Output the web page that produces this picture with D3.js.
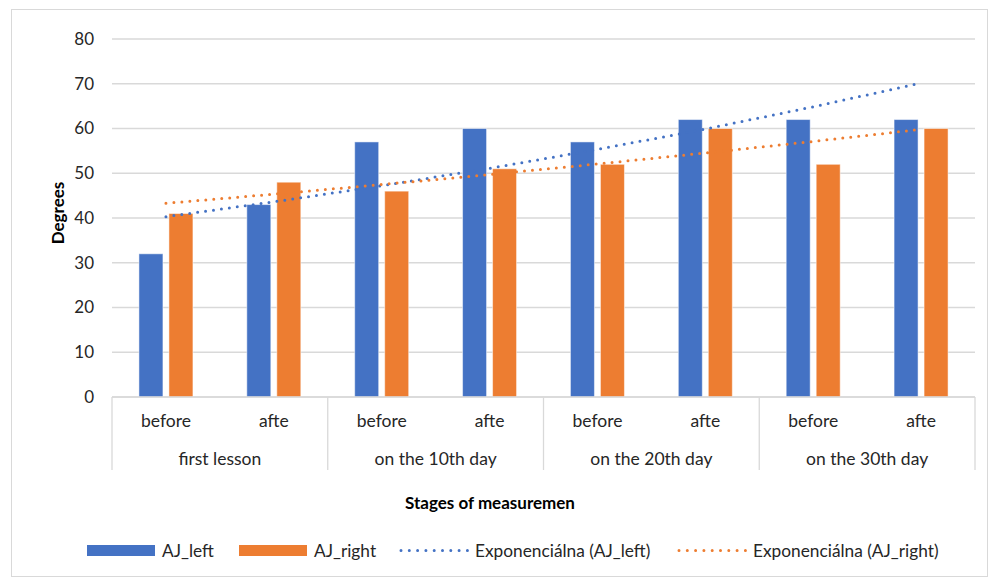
<!DOCTYPE html>
<html><head><meta charset="utf-8">
<script src="https://cdn.jsdelivr.net/npm/d3@7"></script>
<style>body{margin:0;background:#fff;font-family:Lato,"Open Sans",sans-serif;}</style>
</head><body><svg id="c" width="992" height="579"></svg>
<script>
const stages = ["before","afte","before","afte","before","afte","before","afte"];
const groups = ["first lesson","on the 10th day","on the 20th day","on the 30th day"];
const ajLeft = [32,43,57,60,57,62,62,62];
const ajRight = [41,48,46,51,52,60,52,60];
const yTicks = [0,10,20,30,40,50,60,70,80];
const seriesNames = ["AJ_left","AJ_right","Exponenciálna (AJ_left)","Exponenciálna (AJ_right)"];
const colors = ["#4472C4","#ED7D31"];

const svg = d3.select("#c");
svg.append("rect").attr("x",11.5).attr("y",9.5).attr("width",976).attr("height",567).attr("fill","#fff").attr("stroke","#d9d9d9");

const L=112,R=975,T=39,B=397;
const x = d3.scaleBand().domain(d3.range(stages.length)).range([L,R]);
const y = d3.scaleLinear().domain([0,80]).range([B,T]);

// gridlines
svg.append("g").selectAll("line").data(yTicks).join("line")
 .attr("x1",L).attr("x2",R).attr("y1",d=>y(d)).attr("y2",d=>y(d))
 .attr("stroke","#d9d9d9").attr("stroke-width",1.3);
// y labels
svg.append("g").selectAll("text").data(yTicks).join("text")
 .attr("x",94).attr("y",d=>y(d)).attr("dy","0.35em").attr("text-anchor","end")
 .attr("font-size",17).attr("fill","#262626").text(d=>d);

// bars
const bw = 24, off = 15;
const cx = i => x(i)+x.bandwidth()/2;
[ajLeft,ajRight].forEach((s,k)=>{
  svg.append("g").selectAll("rect").data(s).join("rect")
   .attr("x",(d,i)=>cx(i)+(k===0?-off:off)-bw/2).attr("width",bw)
   .attr("y",d=>y(d)).attr("height",d=>B-y(d))
   .attr("fill",colors[k]).attr("stroke","#ffffff").attr("stroke-opacity",0.5).attr("stroke-width",1);
});

// axis baseline & separators
svg.append("line").attr("x1",L).attr("x2",R).attr("y1",B).attr("y2",B).attr("stroke","#d9d9d9").attr("stroke-width",1.3);
const seps = d3.range(0,stages.length+1,2);
svg.append("g").selectAll("line").data(seps).join("line")
 .attr("x1",d=>d<stages.length?x(d):R).attr("x2",d=>d<stages.length?x(d):R)
 .attr("y1",B).attr("y2",470).attr("stroke","#d9d9d9").attr("stroke-width",1.3);

svg.append("g").selectAll("text").data(stages).join("text")
 .attr("x",(d,i)=>cx(i)).attr("y",421).attr("dy","0.35em").attr("text-anchor","middle")
 .attr("font-size",17.5).attr("fill","#262626").text(d=>d);
svg.append("g").selectAll("text").data(groups).join("text")
 .attr("x",(d,i)=>x(i*2)+x.bandwidth()).attr("y",459).attr("dy","0.35em").attr("text-anchor","middle")
 .attr("font-size",17.5).attr("fill","#262626").text(d=>d);

// axis titles
svg.append("text").attr("transform","translate(58,213) rotate(-90)").attr("text-anchor","middle").attr("dy","0.35em")
 .attr("font-size",17).attr("font-weight","bold").attr("fill","#000").text("Degrees");
svg.append("text").attr("x",490).attr("y",503).attr("dy","0.35em").attr("text-anchor","middle")
 .attr("font-size",17).attr("font-weight","bold").attr("fill","#000").text("Stages of measuremen");

// exponential trendlines (least squares on ln y)
function expFit(vals){
  const n=vals.length, xs=d3.range(1,n+1), ly=vals.map(Math.log);
  const mx=d3.mean(xs), my=d3.mean(ly);
  const b=d3.sum(xs.map((v,i)=>(v-mx)*(ly[i]-my)))/d3.sum(xs.map(v=>(v-mx)*(v-mx)));
  const a=my-b*mx;
  return xs.map(v=>Math.exp(a+b*v));
}
[ajLeft,ajRight].forEach((s,k)=>{
  const f=expFit(s);
  svg.append("path").datum(f)
   .attr("d",d3.line().x((d,i)=>cx(i)).y(d=>y(d)))
   .attr("fill","none").attr("stroke",colors[k]).attr("stroke-width",3)
   .attr("stroke-linecap","round").attr("stroke-dasharray","0 8");
});

// legend
const ly=550.5;
const lg=svg.append("g");
const items=[{x:87,type:"bar",c:0},{x:239,type:"bar",c:1},{x:400,type:"line",c:0},{x:678,type:"line",c:1}];
items.forEach((it,i)=>{
  if(it.type==="bar") lg.append("rect").attr("x",it.x).attr("y",ly-5.5).attr("width",68).attr("height",11).attr("fill",colors[it.c]);
  else lg.append("line").attr("x1",it.x+1).attr("x2",it.x+68).attr("y1",ly).attr("y2",ly).attr("stroke",colors[it.c])
     .attr("stroke-width",3).attr("stroke-linecap","round").attr("stroke-dasharray","0 8.3");
  lg.append("text").attr("x",it.x+75).attr("y",ly).attr("dy","0.35em").attr("font-size",17.3).attr("fill","#262626").text(seriesNames[i]);
});
</script></body></html>
